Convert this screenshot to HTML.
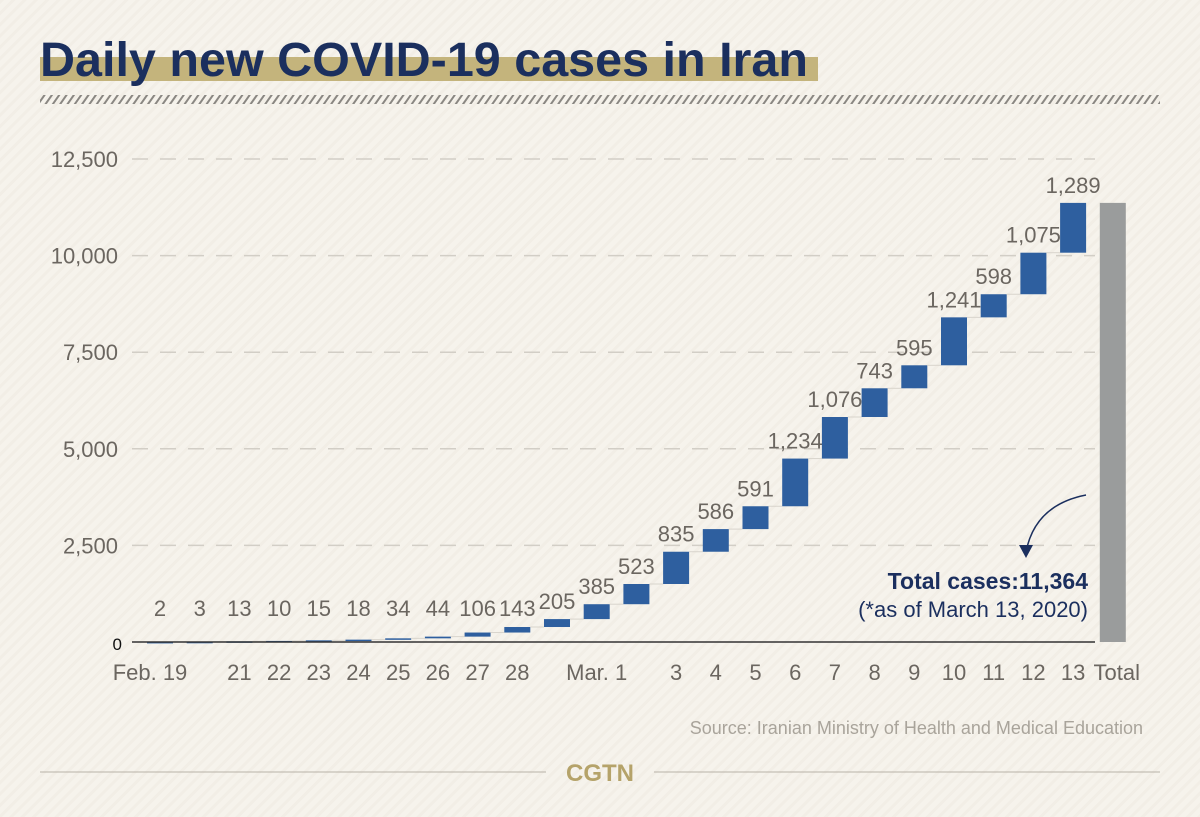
<!DOCTYPE html>
<html><head><meta charset="utf-8"><style>
body{margin:0;width:1200px;height:817px;overflow:hidden;background:#f6f3ec;font-family:"Liberation Sans Narrow","Liberation Sans",sans-serif;}
svg{display:block}
</style></head><body>
<svg width="1200" height="817">
<defs>
<pattern id="bg" width="8" height="8" patternUnits="userSpaceOnUse" patternTransform="rotate(45)"><rect width="8" height="8" fill="#f6f3ec"/><rect width="3" height="8" fill="#f2eee6"/></pattern>
<pattern id="hatch" width="6" height="8" patternUnits="userSpaceOnUse" patternTransform="rotate(35)"><rect width="2" height="8" fill="#8a8782"/></pattern>
</defs>
<rect width="1200" height="817" fill="url(#bg)"/>
<rect x="40" y="57" width="778" height="24" fill="#c4b47c"/>
<text x="40" y="76" font-family="Liberation Sans" font-weight="bold" font-size="48" fill="#1b2f5e" textLength="768" lengthAdjust="spacingAndGlyphs">Daily new COVID-19 cases in Iran</text>
<rect x="40" y="95" width="1120" height="9" fill="url(#hatch)"/>
<g id="grid"></g>
<g id="bars"></g>
<line x1="132" y1="642" x2="1095" y2="642" stroke="#333" stroke-width="1.5"/>
<text x="1088" y="589" text-anchor="end" font-weight="bold" font-size="23" fill="#1b2f5e">Total cases:11,364</text>
<text x="1088" y="617" text-anchor="end" font-size="22" fill="#1b2f5e">(*as of March 13, 2020)</text>
<path d="M1086 495 Q1035 505 1026 552" fill="none" stroke="#1b2f5e" stroke-width="1.5"/>
<path d="M1019 545 L1026 558 L1033 545 Z" fill="#1b2f5e"/>
<text x="1143" y="734" text-anchor="end" font-size="18" fill="#a9a49b">Source: Iranian Ministry of Health and Medical Education</text>
<line x1="40" y1="772" x2="546" y2="772" stroke="#b8b3a8"/>
<line x1="654" y1="772" x2="1160" y2="772" stroke="#b8b3a8"/>
<text x="600" y="781" text-anchor="middle" font-family="Liberation Sans" font-weight="bold" font-size="24" fill="#b5a36a">CGTN</text>
</svg>
<script>
const days=["Feb. 19","","21","22","23","24","25","26","27","28","","Mar. 1","","3","4","5","6","7","8","9","10","11","12","13"];
const values=[2,3,13,10,15,18,34,44,106,143,205,385,523,835,586,591,1234,1076,743,595,1241,598,1075,1289];
const labels=["2","3","13","10","15","18","34","44","106","143","205","385","523","835","586","591","1,234","1,076","743","595","1,241","598","1,075","1,289"];
const yTicks=[0,2500,5000,7500,10000,12500];
const yTickLabels=["0","2,500","5,000","7,500","10,000","12,500"];
const totalValue=11364;
const NS="http://www.w3.org/2000/svg";
const y=v=>642-v*(483/12500);
const x=i=>160+i*39.7;
function mk(t,a,p,txt){const e=document.createElementNS(NS,t);for(const k in a)e.setAttribute(k,a[k]);if(txt!==undefined)e.textContent=txt;p.appendChild(e);return e;}
const grid=document.getElementById('grid'),bars=document.getElementById('bars');
yTicks.forEach((t,i)=>{
  if(t>0){const l=mk('line',{x1:132,x2:1095,y1:y(t),y2:y(t),stroke:'#d2cec6','stroke-width':1.5,'stroke-dasharray':'16 12'},grid);
  
  }
  const tx=mk('text',{x:t===0?122:118,y:y(t)+8,'text-anchor':'end','font-size':t===0?17:22,fill:t===0?'#111':'#6b6660'},grid,yTickLabels[i]);
  
  
});
let cum=0;
values.forEach((v,i)=>{
  const top=y(cum+v),bot=y(cum);
  if(i>0){const c=mk('line',{x1:x(i-1)+13,x2:x(i)-13,y1:bot,y2:bot,stroke:'#d8d4cc','stroke-width':1},bars);
  
  }
  const r=mk('rect',{x:x(i)-13,y:top,width:26,height:Math.max(bot-top,1.5),fill:'#2e5f9f'},bars);
  
  
  const lt=mk('text',{x:x(i),y:Math.min(top,626)-10,'text-anchor':'middle','font-size':22,fill:'#6b6660'},bars,labels[i]);
  
  
  if(days[i]){const d=mk('text',{x:i===0?150:x(i),y:680,'text-anchor':'middle','font-size':22,fill:'#6b6660'},bars,days[i]);
  
  }
  cum+=v;
});
const ti=values.length;
const tb=mk('rect',{x:x(ti)-13,y:y(totalValue),width:26,height:642-y(totalValue),fill:'#9a9c9c'},bars);


const tl=mk('text',{x:x(ti)+4,y:680,'text-anchor':'middle','font-size':22,fill:'#6b6660'},bars,'Total');


</script>
</body></html>
